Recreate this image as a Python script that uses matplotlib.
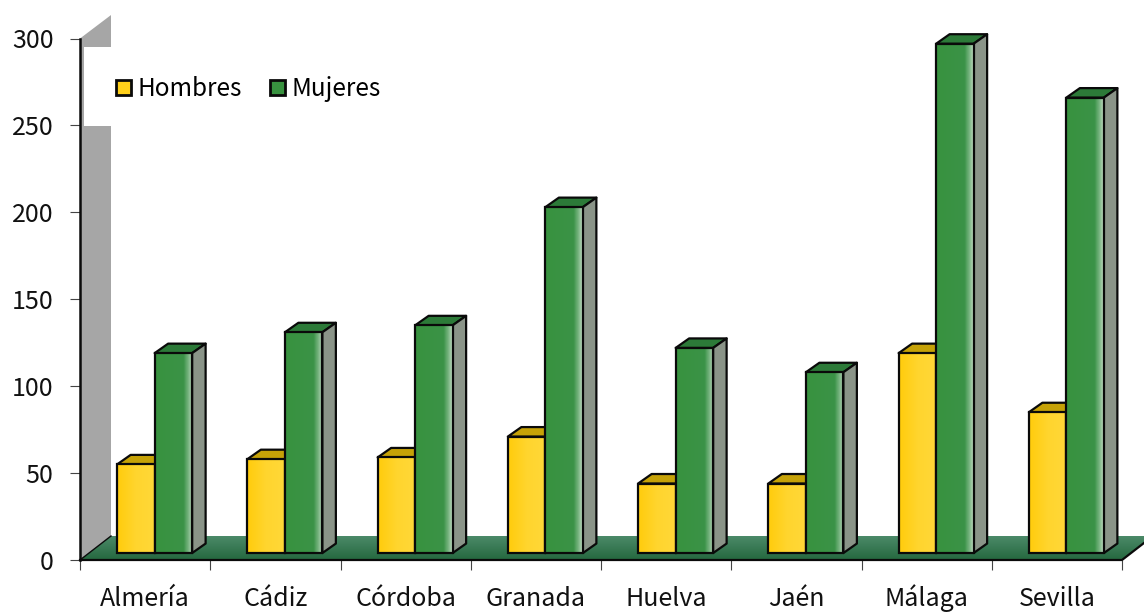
import matplotlib
matplotlib.use('Agg')
import matplotlib.pyplot as plt
import numpy as np
from matplotlib.colors import LinearSegmentedColormap
from matplotlib.patches import Patch, Polygon, Rectangle

plt.rcParams['font.family'] = ['Noto Sans CJK SC', 'DejaVu Sans']

provincias = ['Almería', 'Cádiz', 'Córdoba', 'Granada', 'Huelva', 'Jaén', 'Málaga', 'Sevilla']
hombres = [55, 58, 59, 71, 44, 44, 119, 85]
mujeres = [119, 131, 135, 203, 122, 108, 297, 266]
y_ticks = [0, 50, 100, 150, 200, 250, 300]

W, H = 1144, 612
LEFT, RIGHT, BOTTOM, TOP = 80, 1122, 560, 38.5

fig = plt.figure(figsize=(W / 100, H / 100), dpi=100)
ax = fig.add_axes([LEFT / W, 1 - BOTTOM / H, (RIGHT - LEFT) / W, (BOTTOM - TOP) / H])

# pixels to data units, the fake 3D depth is defined in pixels
px_x = len(provincias) / (RIGHT - LEFT)
px_y = 300 / (BOTTOM - TOP)
depth_x = 13.5 * px_x
depth_y = 9.5 * px_y
floor_x = 31 * px_x
floor_y = 24 * px_y
base = 4
bar_w = 37.5 * px_x
group_shift = 9.5 * px_x

EDGE = '#0a0a0a'
LW = 1.6

yellow_cm = LinearSegmentedColormap.from_list('y', ['#ffcc0c', '#ffd52e', '#ffd838'])
green_cm = LinearSegmentedColormap.from_list(
    'g', [(0, '#38923f'), (0.76, '#3b9347'), (0.9, '#7fb887'), (1, '#c8dfc8')])
floor_cm = LinearSegmentedColormap.from_list('f', ['#4d8b6a', '#25683f'])


def gradient_bar(x0, x1, y0, y1, cmap, z):
    grad = np.linspace(0, 1, 64).reshape(1, -1)
    ax.imshow(grad, cmap=cmap, extent=(x0, x1, y0, y1), aspect='auto', zorder=z,
              interpolation='bilinear', clip_on=False)
    ax.add_patch(Rectangle((x0, y0), x1 - x0, y1 - y0, fill=False, edgecolor=EDGE,
                           linewidth=LW, zorder=z + 0.1, clip_on=False))


def draw_bar(x0, value, front_cm, top_color, side_color, z):
    x1 = x0 + bar_w
    top = [(x0, value), (x1, value), (x1 + depth_x, value + depth_y), (x0 + depth_x, value + depth_y)]
    side = [(x1, base), (x1 + depth_x, base + depth_y), (x1 + depth_x, value + depth_y), (x1, value)]
    ax.add_patch(Polygon(top, facecolor=top_color, edgecolor=EDGE, linewidth=LW,
                         joinstyle='round', zorder=z, clip_on=False))
    ax.add_patch(Polygon(side, facecolor=side_color, edgecolor=EDGE, linewidth=LW,
                         joinstyle='round', zorder=z, clip_on=False))
    gradient_bar(x0, x1, base, value, front_cm, z + 0.2)


# back wall
x_min, x_max = -0.5, len(provincias) - 0.5
wall = [(x_min, 0), (x_min, 300), (x_min + floor_x, 300 + 13.5), (x_min + floor_x, floor_y)]
ax.add_patch(Polygon(wall, facecolor='#a6a6a6', edgecolor='none', zorder=1, clip_on=False))

# floor
floor = Polygon([(x_min, 0), (x_max, 0), (x_max + floor_x, floor_y), (x_min + floor_x, floor_y)],
                facecolor='none', edgecolor='none', zorder=2, clip_on=False)
ax.add_patch(floor)
im = ax.imshow(np.linspace(0, 1, 64).reshape(-1, 1), cmap=floor_cm,
               extent=(x_min, x_max + floor_x, 0, floor_y), aspect='auto', zorder=2,
               interpolation='bilinear')
im.set_clip_box(fig.bbox)
im.set_clip_path(floor)
ax.plot([x_min, x_max, x_max + floor_x], [0, 0, floor_y], color=EDGE, linewidth=LW, zorder=3, clip_on=False)
ax.plot([x_min, x_min + floor_x], [0, floor_y], color=EDGE, linewidth=1.0, zorder=3, clip_on=False)

# white box behind the legend
box_x = x_min + 4 * px_x
ax.add_patch(Rectangle((box_x, 300 - 8.5 * px_y), 310 * px_x, -79 * px_y, facecolor='white',
                       edgecolor='none', zorder=4))

for i in range(len(provincias)):
    x_h = i + group_shift - bar_w
    x_m = i + group_shift
    draw_bar(x_h, hombres[i], yellow_cm, '#c6a207', '#8c9488', 5 + i)
    draw_bar(x_m, mujeres[i], green_cm, '#2c7a38', '#8a9488', 5.5 + i)

ax.set_xlim(x_min, x_max)
ax.set_ylim(0, 300)
ax.set_facecolor('none')
for name in ['top', 'right', 'bottom']:
    ax.spines[name].set_visible(False)
ax.spines['left'].set_linewidth(1.8)
ax.spines['left'].set_color(EDGE)
ax.spines['left'].set_zorder(20)

ax.set_yticks(y_ticks)
ax.tick_params(axis='y', length=7, width=0.8, color='#444444', labelsize=18, pad=12)
ax.set_xticks(np.arange(len(provincias) + 1) - 0.5)
ax.set_xticklabels([])
ax.tick_params(axis='x', length=7, width=0.8, color='#444444')
for i, name in enumerate(provincias):
    ax.annotate(name, (i, 0), xytext=(0, -46), textcoords='offset pixels', ha='center', va='baseline',
                fontsize=18, color='#111111', annotation_clip=False)
for lab in ax.get_yticklabels():
    lab.set_color('#111111')

handles = [Patch(facecolor='#ffd01a', edgecolor=EDGE, linewidth=2.0, label='Hombres'),
           Patch(facecolor='#38923f', edgecolor=EDGE, linewidth=2.0, label='Mujeres')]
leg = ax.legend(handles=handles, ncol=2, frameon=False, fontsize=17.5, loc='center left',
                bbox_to_anchor=((116 - LEFT) / (RIGHT - LEFT), (BOTTOM - 89) / (BOTTOM - TOP)),
                borderaxespad=0, borderpad=0, handlelength=0.62, handleheight=0.62,
                handletextpad=0.27, columnspacing=1.14)
leg.set_zorder(30)

fig.savefig('out.png', dpi=100)
